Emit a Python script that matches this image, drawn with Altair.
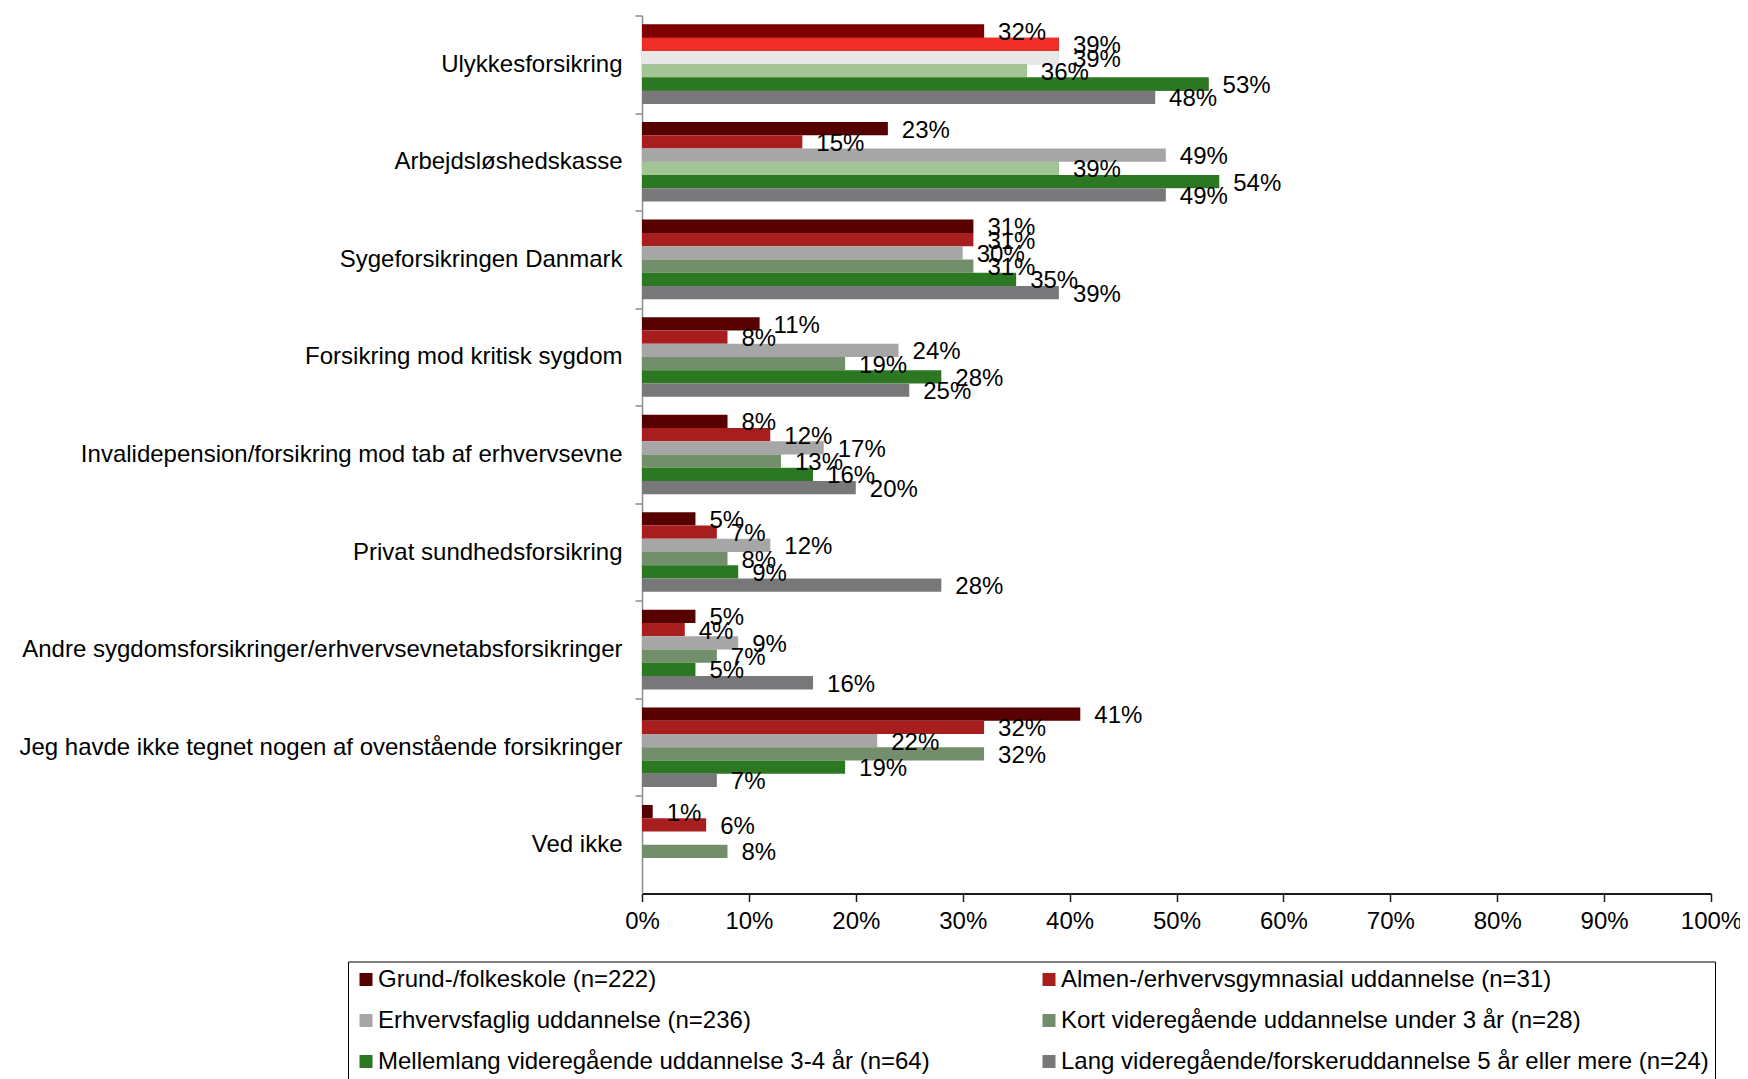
import altair as alt
import pandas as pd

categories = [
    "Ulykkesforsikring",
    "Arbejdsløshedskasse",
    "Sygeforsikringen Danmark",
    "Forsikring mod kritisk sygdom",
    "Invalidepension/forsikring mod tab af erhvervsevne",
    "Privat sundhedsforsikring",
    "Andre sygdomsforsikringer/erhvervsevnetabsforsikringer",
    "Jeg havde ikke tegnet nogen af ovenstående forsikringer",
    "Ved ikke",
]

series = [
    "Grund-/folkeskole (n=222)",
    "Almen-/erhvervsgymnasial uddannelse (n=31)",
    "Erhvervsfaglig uddannelse (n=236)",
    "Kort videregående uddannelse under 3 år (n=28)",
    "Mellemlang videregående uddannelse 3-4 år (n=64)",
    "Lang videregående/forskeruddannelse 5 år eller mere (n=24)",
]

grund = [32, 23, 31, 11, 8, 5, 5, 41, 1]
almen = [39, 15, 31, 8, 12, 7, 4, 32, 6]
erhverv = [39, 49, 30, 24, 17, 12, 9, 22, None]
kort = [36, 39, 31, 19, 13, 8, 7, 32, 8]
mellem = [53, 54, 35, 28, 16, 9, 5, 19, None]
lang = [48, 49, 39, 25, 20, 28, 16, 7, None]

x_ticks = [0, 10, 20, 30, 40, 50, 60, 70, 80, 90, 100]

series_colors = ["#560000", "#A81E1E", "#A6A6A6", "#728E6B", "#2C7721", "#78787A"]
highlight_colors = ["#800000", "#EE2E27", "#E8E8E8", "#A3C596", "#2C7721", "#78787A"]

rows = []
for name, vals in zip(series, [grund, almen, erhverv, kort, mellem, lang]):
    for cat, v in zip(categories, vals):
        if v is not None:
            rows.append({"category": cat, "series": name, "value": v})
df = pd.DataFrame(rows)

W, H = 1069, 878
TOTAL_H = 1071
step = H / len(categories)
FONT = "Liberation Sans"

y_enc = alt.Y(
    "category:N",
    sort=categories,
    scale=alt.Scale(domain=categories, paddingInner=0, paddingOuter=0),
    axis=alt.Axis(
        title=None, labelFontSize=24, labelColor="black", labelFont=FONT,
        labelLimit=900, labelPadding=13, tickSize=7, tickColor="#8c8c8c",
        domainColor="#8c8c8c", domainWidth=1.5, tickWidth=1.5,
        tickOffset=-step / 2, labelOffset=step / 2,
    ),
)
yoff = alt.YOffset(
    "series:N", sort=series,
    scale=alt.Scale(domain=series, paddingInner=0, paddingOuter=0.68),
)
x_enc = alt.X(
    "value:Q",
    scale=alt.Scale(domain=[0, 100], nice=False),
    axis=alt.Axis(
        title=None, values=x_ticks, labelExpr="datum.value + '%'", grid=False,
        labelFontSize=24, labelFont=FONT, labelColor="black", labelPadding=8,
        labelFlush=False,
        domainColor="#1a1a1a", domainWidth=2, tickColor="#1a1a1a", tickWidth=1.5,
        tickSize=8,
    ),
)

base = alt.Chart(df).mark_bar().encode(
    x=x_enc, y=y_enc, yOffset=yoff,
    color=alt.Color(
        "series:N", sort=series,
        scale=alt.Scale(domain=series, range=series_colors),
        legend=alt.Legend(
            title=None, orient="none", legendX=-294, legendY=946, columns=2,
            direction="horizontal",
            symbolType="square", symbolSize=169, symbolStrokeWidth=0,
            labelFontSize=24, labelFont=FONT, labelColor="black", labelOffset=0,
            columnPadding=107, rowPadding=17, padding=6, strokeColor="black",
            labelLimit=900,
        ),
    ),
)

hl_filter = (
    f"datum.category === '{categories[0]}' || "
    f"(datum.category === '{categories[1]}' && datum.series === '{series[3]}')"
)
highlight = alt.Chart(df).transform_filter(hl_filter).mark_bar().encode(
    x=x_enc, y=y_enc, yOffset=yoff,
    color=alt.Color(
        "series:N", sort=series,
        scale=alt.Scale(domain=series, range=highlight_colors),
        legend=None,
    ),
)

labels = alt.Chart(df).transform_calculate(
    label="datum.value + '%'"
).mark_text(
    align="left", baseline="middle", dx=14, dy=2, fontSize=24, font=FONT, color="black"
).encode(x=x_enc, y=y_enc, yOffset=yoff, text="label:N")

chart = alt.layer(base, highlight, labels).resolve_scale(color="independent").properties(
    width=W, height=H,
    autosize=alt.AutoSizeParams(type="none"),
    padding={"left": 634, "top": 7.5, "right": 29, "bottom": TOTAL_H - 7.5 - H},
).configure_view(stroke=None)

chart.save("out.html", embed_options={"renderer": "svg", "actions": False})
